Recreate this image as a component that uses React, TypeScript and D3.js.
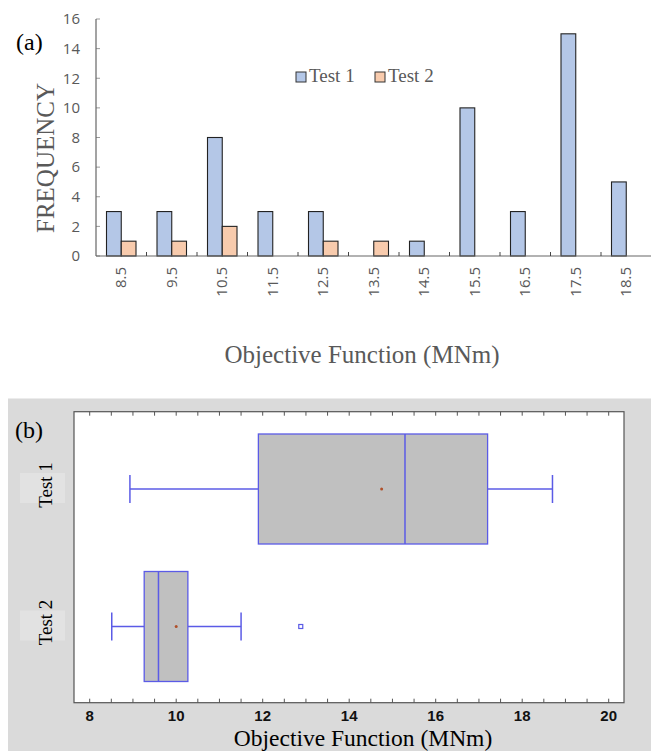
import React from "react";
import * as d3 from "d3";

// ---------- data ----------
const categories = ["8.5", "9.5", "10.5", "11.5", "12.5", "13.5", "14.5", "15.5", "16.5", "17.5", "18.5"];
const seriesNames = ["Test 1", "Test 2"];
const test1Freq = [3, 3, 8, 3, 3, 0, 1, 10, 3, 15, 5];
const test2Freq = [1, 1, 2, 0, 1, 1, 0, 0, 0, 0, 0];
const freqTicks = [0, 2, 4, 6, 8, 10, 12, 14, 16];

const boxTests = ["Test 1", "Test 2"];
const boxWhiskerLow = [8.93, 8.51];
const boxQ1 = [11.9, 9.26];
const boxMedian = [15.29, 9.59];
const boxQ3 = [17.2, 10.27];
const boxWhiskerHigh = [18.7, 11.5];
const boxMean = [14.75, 10.0];
const boxOutliers: number[][] = [[], [12.88]];
const boxTicks = [8, 10, 12, 14, 16, 18, 20];

const SERIF = "'Liberation Serif', 'Times New Roman', serif";
const SANS = "'Open Sans', 'Noto Sans', sans-serif";
const ARIAL = "'Liberation Sans', Arial, sans-serif";

const colors = ["#b4c7e7", "#f8cbad"];

function TopChart() {
  const x0 = 96, x1 = 651.5, yTop = 19, yBase = 256;
  const x = d3.scaleBand<string>().domain(categories).range([x0, x1]).paddingInner(0).paddingOuter(0);
  const bw = x.bandwidth();
  const xs = d3.scaleBand<string>().domain(seriesNames).range([bw / 2 - 14.75, bw / 2 + 14.75]).padding(0);
  const y = d3.scaleLinear().domain([0, 16]).range([yBase, yTop]);
  const series = [test1Freq, test2Freq];
  const gray = "#595959";
  return (
    <g>
      <text x={16} y={50} fontFamily={SERIF} fontSize={24} fill="#000">(a)</text>
      {/* y ticks */}
      {freqTicks.map((t) => (
        <g key={"yt" + t}>
          <line x1={x0} x2={x0 + 4} y1={y(t)} y2={y(t)} stroke="#999" strokeWidth={1} />
          <text x={80} y={y(t)} dy="0.35em" textAnchor="end" fontFamily={SANS} fontSize={15} fill={gray}>{t}</text>
        </g>
      ))}
      {/* bars */}
      {series.map((vals, si) =>
        categories.map((c, i) =>
          vals[i] > 0 ? (
            <rect key={"b" + si + "-" + i}
              x={(x(c) as number) + (xs(seriesNames[si]) as number)}
              y={y(vals[i])}
              width={xs.bandwidth()}
              height={yBase - y(vals[i])}
              fill={colors[si]} stroke="#222" strokeWidth={1.1} />
          ) : null
        )
      )}
      {/* axes */}
      <line x1={x0} x2={x0} y1={yTop} y2={yBase} stroke="#666" strokeWidth={1.2} />
      <line x1={x0} x2={x1} y1={yBase} y2={yBase} stroke="#666" strokeWidth={1.2} />
      {categories.slice(1).map((c) => (
        <line key={"xt" + c} x1={x(c) as number} x2={x(c) as number} y1={yBase} y2={yBase - 4} stroke="#444" strokeWidth={1} />
      ))}
      {categories.map((c) => {
        const cx = (x(c) as number) + bw / 2;
        return (
          <text key={"xl" + c} transform={`translate(${cx + 5},267) rotate(-90)`} textAnchor="end"
            fontFamily={SANS} fontSize={15} fill={gray}>{c}</text>
        );
      })}
      {/* y title */}
      <text transform="translate(54,158) rotate(-90)" textAnchor="middle" fontFamily={SERIF} fontSize={25} fill={gray}>FREQUENCY</text>
      {/* x title */}
      <text x={362} y={363} textAnchor="middle" fontFamily={SERIF} fontSize={25} fill={gray}>Objective Function (MNm)</text>
      {/* legend */}
      {seriesNames.map((s, i) => {
        const lx = i === 0 ? 296 : 375;
        return (
          <g key={"lg" + s}>
            <rect x={lx} y={72} width={10} height={10} fill={colors[i]} stroke="#333" strokeWidth={1} />
            <text x={lx + 13} y={82} fontFamily={SERIF} fontSize={19} fill={gray}>{s}</text>
          </g>
        );
      })}
    </g>
  );
}

function BottomChart() {
  const pl = 74, pr = 624, pt = 411.7, pb = 702.7;
  const x = d3.scaleLinear().domain([8, 20]).range([89.7, 608.7]);
  const y = d3.scalePoint<string>().domain(boxTests).range([489, 626.5]);
  const minor = d3.range(8, 20.01, 0.5);
  const boxH = 110, capH = 28;
  const stroke = "#5b5be6";
  return (
    <g>
      <rect x={8} y={398.5} width={643} height={352.5} fill="#dadada" />
      <rect x={pl} y={pt} width={pr - pl} height={pb - pt} fill="#fff" />
      {/* faint label backdrops */}
      {boxTests.map((t) => (
        <rect key={"bg" + t} x={20} y={(y(t) as number) - 16} width={45} height={30} fill="#e2e2e2" />
      ))}
      <text x={15} y={438} fontFamily={SERIF} fontSize={24} fill="#000">(b)</text>
      {boxTests.map((t, i) => {
        const cy = y(t) as number;
        return (
          <g key={"box" + t}>
            <line x1={x(boxWhiskerLow[i])} x2={x(boxQ1[i])} y1={cy} y2={cy} stroke={stroke} strokeWidth={1.3} />
            <line x1={x(boxQ3[i])} x2={x(boxWhiskerHigh[i])} y1={cy} y2={cy} stroke={stroke} strokeWidth={1.3} />
            <line x1={x(boxWhiskerLow[i])} x2={x(boxWhiskerLow[i])} y1={cy - capH / 2} y2={cy + capH / 2} stroke={stroke} strokeWidth={1.5} />
            <line x1={x(boxWhiskerHigh[i])} x2={x(boxWhiskerHigh[i])} y1={cy - capH / 2} y2={cy + capH / 2} stroke={stroke} strokeWidth={1.5} />
            <rect x={x(boxQ1[i])} y={cy - boxH / 2} width={x(boxQ3[i]) - x(boxQ1[i])} height={boxH}
              fill="#c0c0c0" stroke={stroke} strokeWidth={1.3} />
            <line x1={x(boxMedian[i])} x2={x(boxMedian[i])} y1={cy - boxH / 2} y2={cy + boxH / 2} stroke={stroke} strokeWidth={1.5} />
            <circle cx={x(boxMean[i])} cy={cy} r={1.5} fill="#b0502a" />
            {boxOutliers[i].map((o, k) => (
              <rect key={"o" + k} x={x(o) - 2} y={cy - 2} width={4} height={4} fill="#fff" stroke={stroke} strokeWidth={1.2} />
            ))}
            <text transform={`translate(52,${cy - 4}) rotate(-90)`} textAnchor="middle" fontFamily={SERIF} fontSize={19} fill="#000">{t}</text>
          </g>
        );
      })}
      {/* ticks */}
      {minor.map((v) => (
        <g key={"mt" + v}>
          <line x1={x(v)} x2={x(v)} y1={pb} y2={pb - 4} stroke="#555" strokeWidth={1} />
          <line x1={x(v)} x2={x(v)} y1={pt} y2={pt + 4} stroke="#555" strokeWidth={1} />
        </g>
      ))}
      <rect x={pl} y={pt} width={pr - pl} height={pb - pt} fill="none" stroke="#555" strokeWidth={1.2} />
      {boxTicks.map((t) => (
        <text key={"bt" + t} x={x(t)} y={721} textAnchor="middle" fontFamily={ARIAL} fontWeight="bold" fontSize={15} fill="#111">{t}</text>
      ))}
      <text x={363} y={745.5} textAnchor="middle" fontFamily={SERIF} fontSize={23.5} fill="#000">Objective Function (MNm)</text>
    </g>
  );
}

export default function App() {
  return (
    <div style={{ position: "absolute", left: 0, top: 0 }}>
      <svg width={651} height={751} style={{ display: "block", background: "#fff" }}>
        <TopChart />
        <BottomChart />
      </svg>
    </div>
  );
}
